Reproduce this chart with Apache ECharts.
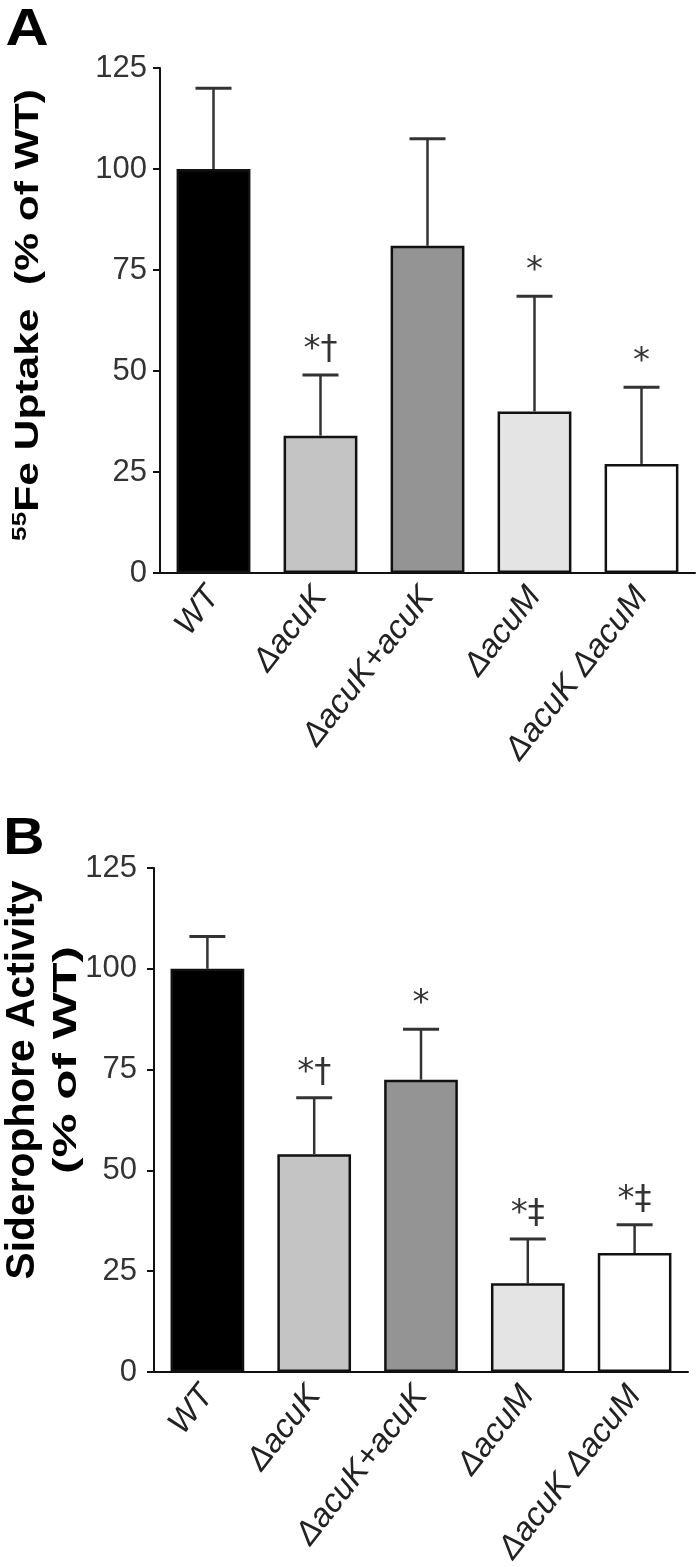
<!DOCTYPE html>
<html><head><meta charset="utf-8">
<script src="https://cdn.jsdelivr.net/npm/echarts@6/dist/echarts.min.js"></script>
<style>html,body{margin:0;padding:0;background:#fff}#c{width:700px;height:1567px}</style>
</head><body><div id="c"></div>
<script>
// ---- data ----
const categories = ['WT', 'ΔacuK', 'ΔacuK+acuK', 'ΔacuM', 'ΔacuK ΔacuM'];
const yMin = 0, yMax = 125, yStep = 25;
// Panel A: 55Fe uptake (% of WT)
const uptakeMean = [100, 34, 81, 40, 27];
const uptakeErrTop = [120, 49, 107.5, 68.5, 46];
const uptakeMarks = ['', '*†', '', '*', '*'];
// Panel B: siderophore activity (% of WT)
const sidMean = [100, 54, 72.5, 22, 29.5];
const sidErrTop = [108, 68, 85, 33, 36.5];
const sidMarks = ['', '*†', '*', '*‡', '*‡'];
// styles
const barColors = ['#000000', '#c4c4c4', '#949494', '#e4e4e4', '#ffffff'];

const FONT = 'Liberation Sans, Arial, sans-serif';

function xAxisDef(gi) {
  return {
    type: 'category', gridIndex: gi, data: categories,
    axisLine: { lineStyle: { color: '#111', width: 2 } },
    axisTick: { alignWithLabel: true, length: 7, lineStyle: { color: '#111', width: 2 } },
    axisLabel: { interval: 0, rotate: 52, margin: 18, fontSize: 33, fontStyle: 'italic',
      color: '#222', fontFamily: FONT }
  };
}
function yAxisDef(gi, margin) {
  return {
    type: 'value', gridIndex: gi, min: yMin, max: yMax, interval: yStep,
    splitLine: { show: false },
    axisLine: { show: true, lineStyle: { color: '#111', width: 2 } },
    axisTick: { show: true, length: 7, lineStyle: { color: '#111', width: 2 } },
    axisLabel: { fontSize: 31, color: '#333', margin: margin, fontFamily: FONT }
  };
}
function barSeries(gi, means) {
  return {
    type: 'bar', xAxisIndex: gi, yAxisIndex: gi, barWidth: '69%',
    data: means.map((v, i) => ({ value: v, itemStyle: { color: barColors[i] } })),
    itemStyle: { borderColor: '#111', borderWidth: 2.5 },
    silent: true
  };
}
function errSeries(gi, means, tops) {
  return {
    type: 'custom', xAxisIndex: gi, yAxisIndex: gi,
    data: means.map((v, i) => [i, v, tops[i]]),
    encode: { x: 0, y: [1, 2] },
    renderItem(params, api) {
      const x = api.value(0), lo = api.value(1), hi = api.value(2);
      const p0 = api.coord([x, lo]), p1 = api.coord([x, hi]);
      const hw = 18;
      return { type: 'group', children: [
        { type: 'line', shape: { x1: p0[0], y1: p0[1], x2: p1[0], y2: p1[1] },
          style: { stroke: '#333', lineWidth: 2.5 } },
        { type: 'line', shape: { x1: p1[0] - hw, y1: p1[1], x2: p1[0] + hw, y2: p1[1] },
          style: { stroke: '#333', lineWidth: 3 } }
      ] };
    },
    silent: true, z: 3
  };
}
function markSeries(gi, tops, marks) {
  return {
    type: 'scatter', xAxisIndex: gi, yAxisIndex: gi, symbolSize: 0,
    data: tops.map((t, i) => [i, t]),
    label: { show: true, position: 'top', distance: 8,
      formatter: p => marks[p.dataIndex], fontSize: 34, color: '#000', fontFamily: 'DejaVu Sans, sans-serif' },
    silent: true, z: 4
  };
}

const chart = echarts.init(document.getElementById('c'), null, { renderer: 'canvas' });
chart.setOption({
  backgroundColor: '#fff',
  animation: false,
  grid: [
    { left: 160, top: 68, width: 535, height: 505, containLabel: false, outerBoundsMode: 'none' },
    { left: 154, top: 868, width: 534, height: 504, containLabel: false, outerBoundsMode: 'none' }
  ],
  xAxis: [xAxisDef(0), xAxisDef(1)],
  yAxis: [yAxisDef(0, 13), yAxisDef(1, 17)],
  series: [
    barSeries(0, uptakeMean), errSeries(0, uptakeMean, uptakeErrTop), markSeries(0, uptakeErrTop, uptakeMarks),
    barSeries(1, sidMean), errSeries(1, sidMean, sidErrTop), markSeries(1, sidErrTop, sidMarks)
  ],
  graphic: [
    { type: 'text', x: 27, y: 31, scaleX: 1.15,
      style: { text: 'A', font: 'bold 52px ' + FONT, fill: '#000', align: 'center', verticalAlign: 'middle' } },
    { type: 'text', x: 24, y: 840, scaleX: 1.1,
      style: { text: 'B', font: 'bold 52px ' + FONT, fill: '#000', align: 'center', verticalAlign: 'middle' } },
    { type: 'text', x: 29, y: 315, rotation: Math.PI / 2, scaleX: 1.25,
      style: { text: '{s|55}{n|Fe Uptake  (% of WT)}', align: 'center', verticalAlign: 'middle',
        rich: { s: { fontSize: 21, fontWeight: 'bold', fontFamily: FONT, verticalAlign: 'top', fill: '#000', lineHeight: 38 },
                n: { fontSize: 34, fontWeight: 'bold', fontFamily: FONT, fill: '#000', lineHeight: 38 } } } },
    { type: 'text', x: 23, y: 1080, rotation: Math.PI / 2, scaleX: 1.02,
      style: { text: 'Siderophore Activity', align: 'center', verticalAlign: 'middle',
        font: 'bold 40px ' + FONT, fill: '#000' } },
    { type: 'text', x: 67, y: 1060, rotation: Math.PI / 2, scaleX: 1.5,
      style: { text: '(% of WT)', align: 'center', verticalAlign: 'middle',
        font: 'bold 33px ' + FONT, fill: '#000' } }
  ]
});
</script></body></html>
